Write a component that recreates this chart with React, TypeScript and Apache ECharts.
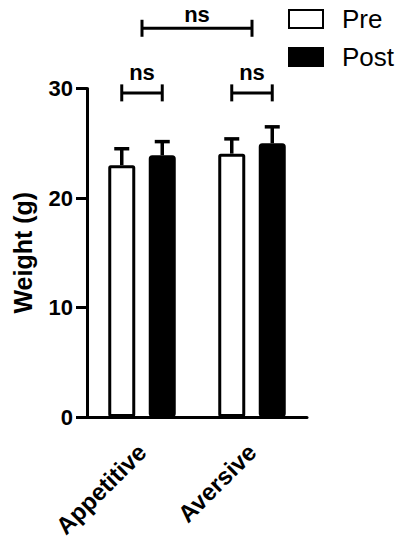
import React, { useEffect, useRef } from "react";
import * as echarts from "echarts";

const categories = ["Appetitive", "Aversive"];
const preMeans = [23.0, 24.05];
const preSem = [1.5, 1.35];
const postMeans = [23.9, 25.0];
const postSem = [1.25, 1.5];
const yTicks = { min: 0, max: 30, interval: 10 };
// brackets: [fromCategory, toCategory, level (g), withinCategory(1) / between(0)]
const brackets = [
  [0, 0, 29.6, 1],
  [1, 1, 29.6, 1],
  [0, 1, 35.5, 0],
];
const bracketLabels = ["ns", "ns", "ns"];

const FONT = "'Liberation Sans', Arial, Helvetica, sans-serif";
const BAR_W = 27;
const BAR_GAP_PX = 13.5;
const OFF = (BAR_W + BAR_GAP_PX) / 2;

export default function App() {
  const ref = useRef<HTMLDivElement>(null);
  useEffect(() => {
    if (!ref.current) return;
    const chart = echarts.init(ref.current, null, { renderer: "svg" });

    const errSeries = (means: number[], sems: number[], sign: number) => ({
      type: "custom",
      silent: true,
      z: 5,
      data: means.map((m, i) => [i, m, sems[i]]),
      renderItem: (params: any, api: any) => {
        const c = api.value(0);
        const v = api.value(1);
        const e = api.value(2);
        const b = api.coord([c, v]);
        const t = api.coord([c, v + e]);
        const x = b[0] + sign * OFF;
        return {
          type: "group",
          children: [
            { type: "line", shape: { x1: x, y1: b[1], x2: x, y2: t[1] }, style: { stroke: "#000", lineWidth: 3.5 } },
            { type: "line", shape: { x1: x - 7.5, y1: t[1], x2: x + 7.5, y2: t[1] }, style: { stroke: "#000", lineWidth: 3.5 } },
          ],
        };
      },
    });

    const option: any = {
      animation: false,
      grid: { left: 87, right: 98, top: 88.5, bottom: 133, containLabel: false },
      legend: {
        orient: "vertical",
        left: 288,
        top: 6,
        padding: 0,
        icon: "rect",
        itemWidth: 34,
        itemHeight: 18,
        itemGap: 12,
        data: ["Pre", "Post"],
        textStyle: { fontFamily: FONT, fontSize: 26, color: "#000", padding: [0, 0, 0, 14] },
        selectedMode: false,
      },
      xAxis: {
        type: "category",
        data: categories,
        axisLine: { lineStyle: { color: "#000", width: 3 } },
        axisTick: { alignWithLabel: true, length: 8, lineStyle: { color: "#000", width: 3 } },
        axisLabel: {
          interval: 0,
          rotate: 45,
          margin: 31,
          fontFamily: FONT,
          fontWeight: "bold",
          fontSize: 24,
          color: "#000",
        },
      },
      yAxis: {
        type: "value",
        min: yTicks.min,
        max: yTicks.max,
        interval: yTicks.interval,
        name: "Weight (g)",
        nameLocation: "middle",
        nameGap: 52,
        nameTextStyle: { fontFamily: FONT, fontWeight: "bold", fontSize: 25, color: "#000" },
        splitLine: { show: false },
        axisLine: { show: true, lineStyle: { color: "#000", width: 3 } },
        axisTick: { show: true, inside: false, length: 11, lineStyle: { color: "#000", width: 3 } },
        axisLabel: { margin: 14, fontFamily: FONT, fontWeight: "bold", fontSize: 22, color: "#000" },
      },
      series: [
        {
          name: "Pre",
          type: "bar",
          data: preMeans,
          barWidth: BAR_W,
          barGap: (BAR_GAP_PX / BAR_W) * 100 + "%",
          itemStyle: { color: "#fff", borderColor: "#000", borderWidth: 3, borderRadius: 1 },
        },
        {
          name: "Post",
          type: "bar",
          data: postMeans,
          barWidth: BAR_W,
          itemStyle: { color: "#000", borderColor: "#000", borderWidth: 3, borderRadius: 2 },
        },
        errSeries(preMeans, preSem, -1),
        errSeries(postMeans, postSem, 1),
        {
          type: "custom",
          silent: true,
          clip: false,
          z: 6,
          data: brackets,
          renderItem: (params: any, api: any) => {
            const from = api.value(0);
            const to = api.value(1);
            const level = api.value(2);
            const within = api.value(3) === 1;
            const p1 = api.coord([from, level]);
            const p2 = api.coord([to, level]);
            let x1 = p1[0];
            let x2 = p2[0];
            if (within) {
              x1 -= OFF;
              x2 += OFF;
            }
            const y = p1[1];
            const h = 8.5;
            const gap = within ? 20 : 14;
            return {
              type: "group",
              children: [
                { type: "line", shape: { x1, y1: y, x2, y2: y }, style: { stroke: "#000", lineWidth: 3 } },
                { type: "line", shape: { x1, y1: y - h, x2: x1, y2: y + h }, style: { stroke: "#000", lineWidth: 3 } },
                { type: "line", shape: { x1: x2, y1: y - h, x2, y2: y + h }, style: { stroke: "#000", lineWidth: 3 } },
                {
                  type: "text",
                  x: (x1 + x2) / 2,
                  y: y - gap,
                  style: {
                    text: bracketLabels[params.dataIndex],
                    fontFamily: FONT,
                    fontWeight: "bold",
                    fontSize: 22,
                    fill: "#000",
                    align: "center",
                    verticalAlign: "middle",
                  },
                },
              ],
            };
          },
        },
      ],
    };
    chart.setOption(option);
    return () => chart.dispose();
  }, []);
  return <div ref={ref} style={{ position: "fixed", left: 0, top: 0, width: 405, height: 550, background: "#fff" }} />;
}
